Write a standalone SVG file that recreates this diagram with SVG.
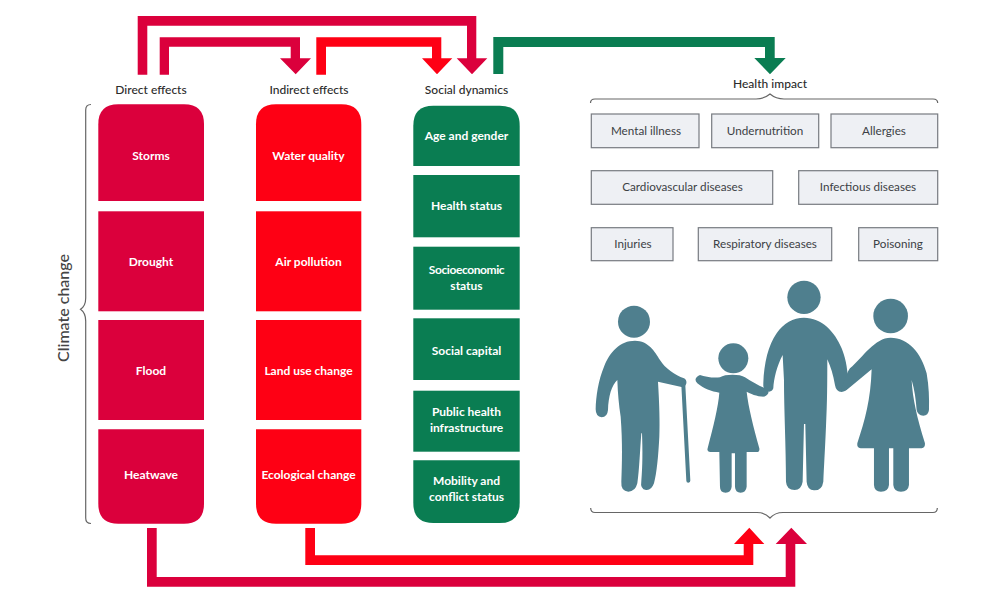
<svg xmlns="http://www.w3.org/2000/svg" width="1000" height="600" viewBox="0 0 1000 600">
<style>
text{font-family:"Lato","Noto Sans","Liberation Sans",sans-serif;text-anchor:middle}
.h{font-size:12px;fill:#2b2b2b;font-weight:500}
.w{font-size:12px;fill:#fff;font-weight:700}
.g{font-size:11.7px;fill:#3c3f45}
.cr{fill:#db003c}.rd{fill:#fe0014}.gn{fill:#0a7d52}
.box{fill:#eef0f4;stroke:#777b80;stroke-width:1.2}
.brace{fill:none;stroke:#666;stroke-width:1.2}
.p{fill:#4f7f8e}
</style>
<rect width="1000" height="600" fill="#fff"/>
<g id="connectors">
<path class="cr" d="M137.7 74.7V16H476.3V58.3H487.3L472 74.3L456.7 58.3H467V25.7H147.3V74.7Z"/>
<path class="cr" d="M159.7 74.7V37.3H300V58.3H311L295.7 74.3L280 58.3H290.7V46.7H169V74.7Z"/>
<path class="rd" d="M316.3 74.7V37.3H441.3V58.3H452.3L437 74.3L422 58.3H432V46.7H326V74.7Z"/>
<path class="gn" d="M493.3 74V37H774.7V58H785.7L770 74.3L754.3 58H765V47H503.3V74Z"/>
<path class="rd" d="M305.3 528V565H753.3V544H764.3L749.3 527.7L734 544H743.7V555.3H315V528Z"/>
<path class="cr" d="M147 528V586.7H795.3V544H807L791.3 527.7L775.7 544H785.7V577H156.7V528Z"/>
</g>
<g id="brace-climate"><path class="brace" d="M91 104.5Q85.7 104.5 85.7 110V298Q85.7 306 80.5 309.3Q85.7 313 85.7 321V518Q85.7 523.5 91 523.5"/></g>
<g id="brace-health-top"><path class="brace" d="M590.5 103Q590.5 99 595 99H756Q764 99 770 94Q776 99 784 99H933Q937.7 99 937.7 103"/></g>
<g id="brace-health-bottom"><path class="brace" d="M590.7 508Q590.7 512.5 595 512.5H757Q765 512.5 770 518Q775 512.5 783 512.5H933Q937.3 512.5 937.3 508"/></g>
<g id="label-climate"><text class="h" style="font-size:16px;fill:#444" transform="translate(69 308) rotate(-90)">Climate change</text></g>
<g id="label-direct"><text class="h" x="151" y="94">Direct effects</text></g>
<g id="label-indirect"><text class="h" x="309" y="94">Indirect effects</text></g>
<g id="label-social"><text class="h" x="466.5" y="94">Social dynamics</text></g>
<g id="label-health"><text class="h" x="770" y="87.5">Health impact</text></g>

<g id="storms"><path class="cr" d="M98.3 201V124.3Q98.3 104.3 118.3 104.3H184Q204 104.3 204 124.3V201Z"/><text class="w" x="151" y="160">Storms</text></g>
<g id="drought"><rect class="cr" x="98.3" y="211.3" width="105.7" height="100"/><text class="w" x="151" y="266">Drought</text></g>
<g id="flood"><rect class="cr" x="98.3" y="320" width="105.7" height="100"/><text class="w" x="151" y="375">Flood</text></g>
<g id="heatwave"><path class="cr" d="M98.3 429.3H204V503.7Q204 523.7 184 523.7H118.3Q98.3 523.7 98.3 503.7Z"/><text class="w" x="151" y="479">Heatwave</text></g>

<g id="water-quality"><path class="rd" d="M256 201V124.3Q256 104.3 276 104.3H341.3Q361.3 104.3 361.3 124.3V201Z"/><text class="w" x="308.5" y="160">Water quality</text></g>
<g id="air-pollution"><rect class="rd" x="256" y="211.3" width="105.3" height="100"/><text class="w" x="308.5" y="266">Air pollution</text></g>
<g id="land-use-change"><rect class="rd" x="256" y="320" width="105.3" height="100"/><text class="w" x="308.5" y="375">Land use change</text></g>
<g id="ecological-change"><path class="rd" d="M256 429.3H361.3V503.7Q361.3 523.7 341.3 523.7H276Q256 523.7 256 503.7Z"/><text class="w" x="308.5" y="479">Ecological change</text></g>

<g id="age-and-gender"><path class="gn" d="M413.3 166V125.7Q413.3 105.7 433.3 105.7H499.7Q519.7 105.7 519.7 125.7V166Z"/><text class="w" x="466.5" y="140">Age and gender</text></g>
<g id="health-status"><rect class="gn" x="413.3" y="175" width="106.4" height="62.3"/><text class="w" x="466.5" y="210">Health status</text></g>
<g id="socioeconomic-status"><rect class="gn" x="413.3" y="246.7" width="106.4" height="63"/><text class="w" x="466.5" y="273.5" style="letter-spacing:-.4px">Socioeconomic</text><text class="w" x="466.5" y="290">status</text></g>
<g id="social-capital"><rect class="gn" x="413.3" y="318.3" width="106.4" height="61.7"/><text class="w" x="466.5" y="355">Social capital</text></g>
<g id="public-health-infrastructure"><rect class="gn" x="413.3" y="390.7" width="106.4" height="61"/><text class="w" x="466.5" y="416">Public health</text><text class="w" x="466.5" y="432">infrastructure</text></g>
<g id="mobility-and-conflict-status"><path class="gn" d="M413.3 460.3H519.7V503Q519.7 523 499.7 523H433.3Q413.3 523 413.3 503Z"/><text class="w" x="466.5" y="485">Mobility and</text><text class="w" x="466.5" y="500.5">conflict status</text></g>

<g id="mental-illness"><rect class="box" x="591.3" y="114" width="107.7" height="33.7"/><text class="g" x="646" y="134.5">Mental illness</text></g>
<g id="undernutrition"><rect class="box" x="711.7" y="114" width="107" height="33.7"/><text class="g" x="765" y="134.5">Undernutrition</text></g>
<g id="allergies"><rect class="box" x="831" y="114" width="106.7" height="33.7"/><text class="g" x="884" y="134.5">Allergies</text></g>
<g id="cardiovascular-diseases"><rect class="box" x="591.3" y="170.7" width="181.4" height="33.6"/><text class="g" x="682.5" y="191">Cardiovascular diseases</text></g>
<g id="infectious-diseases"><rect class="box" x="798.7" y="170.7" width="139" height="33.6"/><text class="g" x="868" y="191">Infectious diseases</text></g>
<g id="injuries"><rect class="box" x="591.3" y="227.7" width="81.7" height="33"/><text class="g" x="633" y="248">Injuries</text></g>
<g id="respiratory-diseases"><rect class="box" x="698.3" y="227.7" width="133.4" height="33"/><text class="g" x="765" y="248">Respiratory diseases</text></g>
<g id="poisoning"><rect class="box" x="858.7" y="227.7" width="79" height="33"/><text class="g" x="898" y="248">Poisoning</text></g>

<g id="family" transform="translate(580 270) scale(.3333)">
<g id="grandfather"><circle class="p" cx="162" cy="155" r="48"/>
<path class="p" d="M165 212C205 212 225 245 240 270C255 295 285 315 312 325C323 330 322 348 308 352L234 335C238 400 240 460 238 500C235 560 230 610 222 640Q214 662 198 660Q180 658 184 632C188 590 188 540 186 490H184C180 540 178 600 172 640Q166 665 145 665Q122 663 124 635C126 580 128 520 122 440Q114 390 112 330C95 345 85 380 84 420Q82 442 65 442Q47 440 47 418C48 380 55 330 72 290C90 245 120 212 165 212Z"/>
<path d="M310 345L325 632" fill="none" stroke="#4f7f8e" stroke-width="12" stroke-linecap="round"/></g>
<g id="child"><circle class="p" cx="460" cy="265" r="45"/>
<path class="p" d="M360 315C375 320 400 325 420 322C435 312 480 312 495 322C515 335 540 350 558 355C570 360 568 375 552 380C530 380 510 370 500 365C505 410 520 470 538 535Q540 546 530 546H500L500 650Q498 668 482 668Q466 668 465 650V550H455V650Q453 668 437 668Q420 668 420 650L418 546H390Q380 545 383 535C400 470 415 410 418 368C395 365 370 355 352 340Q338 325 360 315Z"/></g>
<g id="father"><circle class="p" cx="672" cy="82" r="50"/>
<path class="p" d="M672 143C725 143 765 185 785 235C795 260 802 285 805 340Q803 365 785 366Q768 365 765 345C760 315 752 290 742 268C742 330 742 400 738 470C735 540 732 590 730 635Q726 662 702 661Q682 660 680 635L676 462H672L668 635Q664 660 644 660Q620 660 618 635C618 530 612 420 612 330L608 255C590 290 582 325 580 355Q575 368 562 364Q548 360 550 340C552 280 565 225 590 190C610 160 640 143 672 143Z"/></g>
<g id="mother"><circle class="p" cx="932" cy="138" r="52"/>
<path class="p" d="M932 203C985 203 1025 250 1040 310C1047 350 1048 385 1047 420Q1045 437 1030 437Q1013 436 1010 420C1008 390 1004 360 995 330C998 385 1010 440 1035 520Q1036 533 1025 535H987V645Q985 665 963 665Q942 665 940 645V535H927V645Q925 665 903 665Q883 665 882 645V535H842Q830 533 832 520C855 450 872 390 875 298L800 360Q790 366 785 355C795 330 802 305 810 295C850 260 885 203 932 203Z"/></g>
</g>
</svg>
